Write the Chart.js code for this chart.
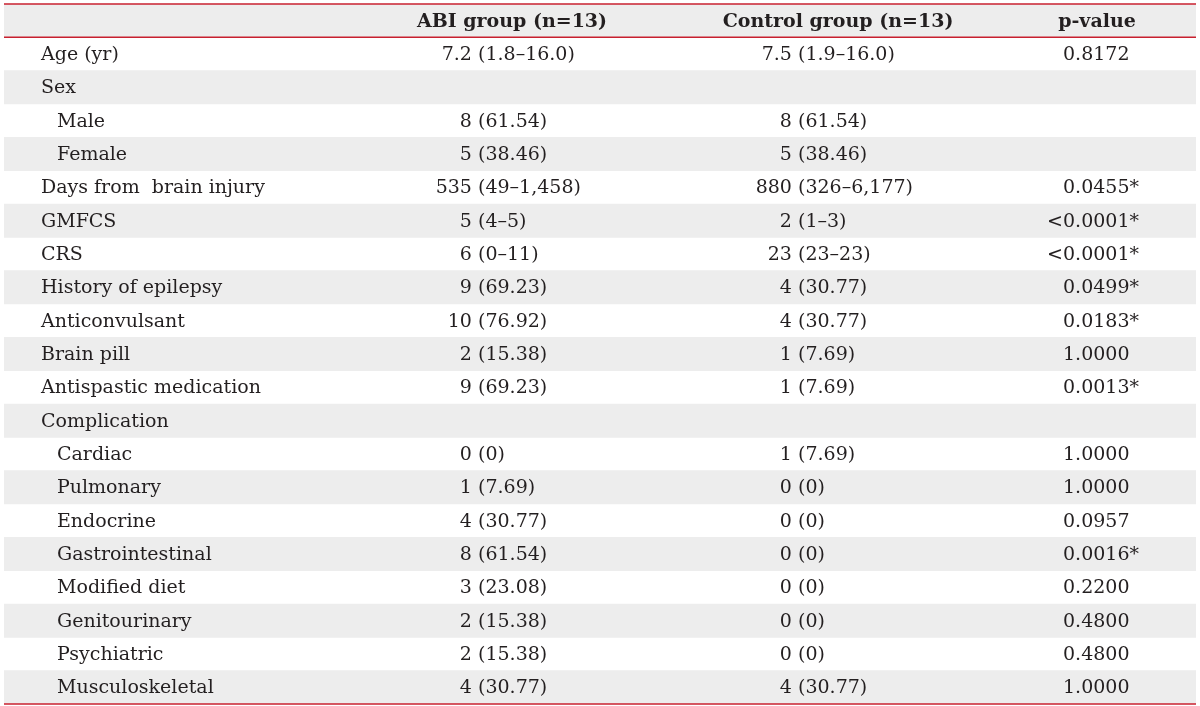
<!DOCTYPE html>
<html>
<head>
<meta charset="utf-8">
<script src="https://cdn.jsdelivr.net/npm/chart.js@4/dist/chart.umd.min.js"></script>
<style>
  html, body { margin: 0; padding: 0; background: #fff; }
  #wrap { width: 1200px; height: 706px; position: relative; }
</style>
</head>
<body>
<div id="wrap"><canvas id="table-chart"></canvas></div>
<script>
// table content
const headers = ['', 'ABI group (n=13)', 'Control group (n=13)', 'p-value'];
const rowLabels = ['Age (yr)', 'Sex', 'Male', 'Female', 'Days from  brain injury', 'GMFCS', 'CRS',
    'History of epilepsy', 'Anticonvulsant', 'Brain pill', 'Antispastic medication', 'Complication',
    'Cardiac', 'Pulmonary', 'Endocrine', 'Gastrointestinal', 'Modified diet', 'Genitourinary',
    'Psychiatric', 'Musculoskeletal'];
const rowLevel = [0, 0, 1, 1, 0, 0, 0, 0, 0, 0, 0, 0, 1, 1, 1, 1, 1, 1, 1, 1];
const abiValues = ['7.2 (1.8–16.0)', '', '8 (61.54)', '5 (38.46)', '535 (49–1,458)', '5 (4–5)', '6 (0–11)',
    '9 (69.23)', '10 (76.92)', '2 (15.38)', '9 (69.23)', '', '0 (0)', '1 (7.69)', '4 (30.77)',
    '8 (61.54)', '3 (23.08)', '2 (15.38)', '2 (15.38)', '4 (30.77)'];
const controlValues = ['7.5 (1.9–16.0)', '', '8 (61.54)', '5 (38.46)', '880 (326–6,177)', '2 (1–3)', '23 (23–23)',
    '4 (30.77)', '4 (30.77)', '1 (7.69)', '1 (7.69)', '', '1 (7.69)', '0 (0)', '0 (0)',
    '0 (0)', '0 (0)', '0 (0)', '0 (0)', '4 (30.77)'];
const pValues = ['0.8172', '', '', '', '0.0455*', '<0.0001*', '<0.0001*', '0.0499*', '0.0183*', '1.0000',
    '0.0013*', '', '1.0000', '1.0000', '0.0957', '0.0016*', '0.2200', '0.4800', '0.4800', '1.0000'];

// layout (x in table units, 0..1192)
const X_MAX = 1192;
const labelX = 37;
const indent = 16;
const headerCenters = [0, 508, 834, 1093];
const parenX = [0, 474, 794];
const pNumX = 1059;

const RED = '#c8202f';
const STRIPE = '#ededed';
const INK = '#231f20';
const FONT = '"DejaVu Serif", serif';
const FONT_SIZE = 19;

const allRows = ['__header'].concat(rowLabels);
const stripeData = allRows.map((_, i) => (i % 2 === 0 ? X_MAX : null));

const tableText = {
    id: 'tableText',
    afterDatasetsDraw(chart) {
        const { ctx, chartArea } = chart;
        const xs = chart.scales.x;
        const ys = chart.scales.y;
        const band = ys.getPixelForValue(1) - ys.getPixelForValue(0);
        ctx.save();
        ctx.fillStyle = INK;
        ctx.textBaseline = 'middle';

        // header
        const hy = ys.getPixelForValue(0) + 1;
        ctx.font = 'bold ' + FONT_SIZE + 'px ' + FONT;
        ctx.textAlign = 'center';
        for (let c = 1; c < headers.length; c++) {
            ctx.fillText(headers[c], xs.getPixelForValue(headerCenters[c]), hy);
        }

        ctx.font = FONT_SIZE + 'px ' + FONT;
        rowLabels.forEach((label, i) => {
            const y = ys.getPixelForValue(i + 1) + 1;
            ctx.textAlign = 'left';
            ctx.fillText(label, xs.getPixelForValue(labelX + rowLevel[i] * indent), y);

            [abiValues[i], controlValues[i]].forEach((v, c) => {
                if (!v) return;
                const k = v.indexOf(' (');
                const px = xs.getPixelForValue(parenX[c + 1]);
                ctx.textAlign = 'right';
                ctx.fillText(v.slice(0, k + 1), px, y);
                ctx.textAlign = 'left';
                ctx.fillText(v.slice(k + 1), px, y);
            });

            const p = pValues[i];
            if (p) {
                const px = xs.getPixelForValue(pNumX);
                if (p[0] === '<') {
                    ctx.textAlign = 'right';
                    ctx.fillText('<', px, y);
                    ctx.textAlign = 'left';
                    ctx.fillText(p.slice(1), px, y);
                } else {
                    ctx.textAlign = 'left';
                    ctx.fillText(p, px, y);
                }
            }
        });

        // red rules
        ctx.strokeStyle = RED;
        ctx.lineWidth = 1.5;
        const headBottom = ys.getPixelForValue(0) + band / 2;
        [chartArea.top, headBottom, chartArea.bottom].forEach(yy => {
            ctx.beginPath();
            ctx.moveTo(chartArea.left, yy);
            ctx.lineTo(chartArea.right, yy);
            ctx.stroke();
        });
        ctx.restore();
    }
};

new Chart(document.getElementById('table-chart'), {
    type: 'bar',
    data: {
        labels: allRows,
        datasets: [{
            data: stripeData,
            backgroundColor: STRIPE,
            borderWidth: 0,
            barPercentage: 1,
            categoryPercentage: 1
        }]
    },
    options: {
        indexAxis: 'y',
        responsive: true,
        maintainAspectRatio: false,
        animation: false,
        layout: { padding: { left: 4, right: 4, top: 4, bottom: 2 } },
        scales: {
            x: { type: 'linear', min: 0, max: X_MAX, display: false },
            y: { type: 'category', display: false, offset: true }
        },
        plugins: {
            legend: { display: false },
            tooltip: { enabled: false }
        }
    },
    plugins: [tableText]
});
</script>
</body>
</html>
